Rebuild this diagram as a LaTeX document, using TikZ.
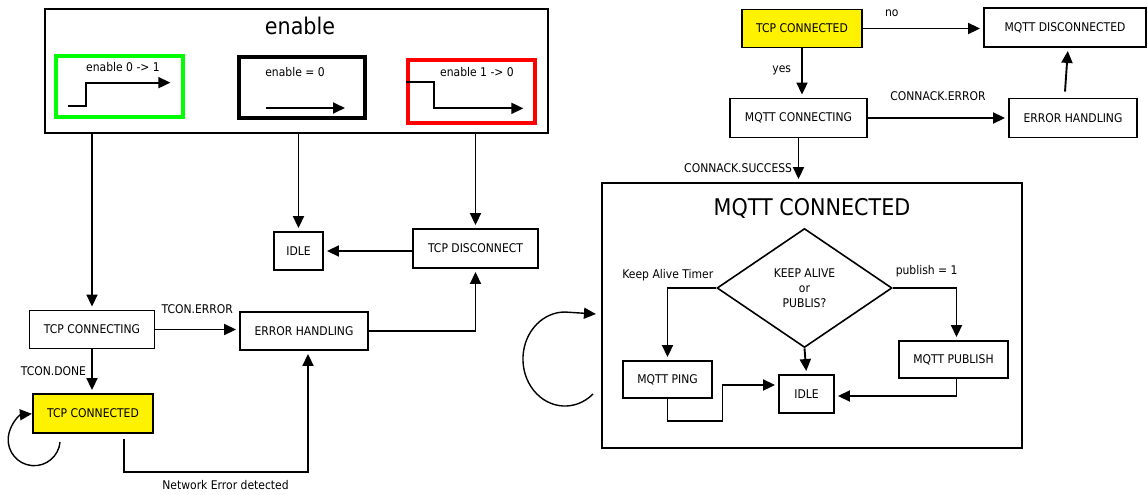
\documentclass[tikz,border=0pt]{standalone}
\usepackage{fontspec}
\setmainfont{DejaVu Sans}[FakeStretch=0.9]
\usetikzlibrary{arrows.meta,shapes.geometric}

\begin{document}
\begin{tikzpicture}[x=1pt, y=-1pt,
box/.style={draw, line width=1.9pt, align=center, minimum height=38pt, inner sep=2pt, font=\fontsize{12}{14}\selectfont},
yel/.style={box, fill=yellow},
frame/.style={draw, line width=1.9pt, inner sep=0pt},
ttl/.style={font=\fontsize{23}{26}\selectfont},
lbl/.style={font=\fontsize{12}{14}\selectfont, inner sep=2pt},
arr/.style={-{Triangle[length=12pt,width=11pt]}, line width=1.9pt, shorten >=3pt},
sig/.style={-{Triangle[length=12pt,width=11pt]}, line width=1.8pt},
selfarr/.style={-{Triangle[length=12pt,width=11pt]}, line width=1.4pt}
]
\useasboundingbox (0,0) rectangle (1148,495);
\node[frame, minimum width=503pt, minimum height=124pt] (en) at (296.5,71) {};
\node[ttl] (entitle) at (300,26) {enable};
\node[frame, draw=green, line width=3.3pt, minimum width=127pt, minimum height=61pt] (rise) at (119.5,86.5) {};
\node[frame, line width=4pt, minimum width=126pt, minimum height=61pt] (low) at (302,87.5) {};
\node[frame, draw=red, line width=3.3pt, minimum width=127pt, minimum height=63pt] (fall) at (471.5,91.5) {};
\node[lbl] (risetxt) at (123,67) {enable 0 -> 1};
\node[lbl] (lowtxt) at (295,72) {enable = 0};
\node[lbl] (falltxt) at (477,72) {enable 1 -> 0};
\draw[sig] ([xshift=14pt,yshift=13pt]rise.south west) -- ++(18,0) -- ++(0,-23) -- ++(84,0);
\draw[sig] ([xshift=29pt,yshift=12pt]low.south west) -- ++(79,0);
\draw[sig] ([yshift=-24pt]fall.north west) -- ++(28,0) -- ++(0,26) -- ++(89,0);

\node[box, minimum width=125pt] (tcpcon) at (92,329.5) {TCP CONNECTING};
\node[box, minimum width=128pt] (errl) at (304,331) {ERROR HANDLING};
\node[yel, minimum width=120pt, minimum height=39pt] (tcpok) at (93,413.5) {TCP CONNECTED};
\node[box, minimum width=49pt] (idlel) at (298.5,251) {IDLE};
\node[box, minimum width=125pt, minimum height=39pt] (tcpdis) at (475.5,248.5) {TCP DISCONNECT};

\node[yel, minimum width=120pt] (tcpokr) at (802,28.5) {TCP CONNECTED};
\node[box, minimum width=162pt, minimum height=39pt] (mqdis) at (1065,27.5) {MQTT DISCONNECTED};
\node[box, minimum width=137pt, minimum height=39pt] (mqcon) at (798.5,118) {MQTT CONNECTING};
\node[box, minimum width=128pt, minimum height=39pt] (errr) at (1073,118) {ERROR HANDLING};
\node[frame, minimum width=420pt, minimum height=265pt] (mqok) at (812,315.5) {};
\node[ttl] (mqtitle) at (812,208) {MQTT CONNECTED};
\node[draw, diamond, line width=1.6pt, minimum width=175pt, minimum height=119pt, inner sep=0pt, align=center, font=\fontsize{12}{15}\selectfont] (ka) at (804.5,288) {KEEP ALIVE\\or\\PUBLIS?};
\node[box, minimum width=89pt, minimum height=37pt] (ping) at (667.5,379.5) {MQTT PING};
\node[box, minimum width=55pt] (idler) at (806.5,394) {IDLE};
\node[box, minimum width=109pt, minimum height=37pt] (pub) at (953.5,359.5) {MQTT PUBLISH};

\draw[arr] (en.south -| tcpcon.north) -- (tcpcon.north);
\draw[arr] (en.south -| idlel.north) -- (idlel.north);
\draw[arr] (en.south -| tcpdis.north) -- (tcpdis.north);
\draw[arr] (tcpcon.east) -- node[lbl, above=13pt] {TCON.ERROR} (errl.west |- tcpcon.east);
\draw[arr] (tcpcon.south) -- node[lbl, left=3pt] {TCON.DONE} (tcpcon.south |- tcpok.north);
\draw[arr] ([xshift=-30pt,yshift=-5pt]tcpok.south east) -- ++(0,33) -| node[lbl, pos=0.276, below=5pt] {Network Error detected} ([xshift=4pt]errl.south);
\draw[arr] (errl.east) -| (tcpdis.south);
\draw[arr] (tcpdis.west |- idlel.east) -- (idlel.east);
\draw[selfarr] ([xshift=28pt,yshift=-8pt]tcpok.south west) arc[start angle=-5, end angle=-265, radius=26pt];

\draw[arr] (tcpokr.east) -- node[lbl, pos=0.24, above=8.5pt] {no} (mqdis.west |- tcpokr.east);
\draw[arr] (tcpokr.south) -- node[lbl, pos=0.45, left=8pt] {yes} (tcpokr.south |- mqcon.north);
\draw[arr] (mqcon.east) -- node[lbl, above=14.5pt] {CONNACK.ERROR} (errr.west);
\draw[arr] ([xshift=-8pt,yshift=6pt]errr.north) -- ([xshift=3pt]mqdis.south);
\draw[arr] (mqcon.south) -- node[lbl, pos=0.67, left=3.5pt] {CONNACK.SUCCESS} (mqcon.south |- mqok.north);
\draw[selfarr] ([xshift=-8pt,yshift=55pt]mqok.south west) arc[start angle=-48, end angle=-270, x radius=42pt, y radius=47pt] -- ++(31,2);

\draw[arr] (ka.west) node[lbl, above left, yshift=4pt] {Keep Alive Timer} -| (ping.north);
\draw[arr] (ka.east) node[lbl, above right, yshift=8pt] {publish = 1} -| ([xshift=3pt]pub.north);
\draw[arr] (ka.south) -- (idler.north);
\draw[arr] (ping.south) -- ++(0,22) -- ++(55,0) |- ([yshift=9pt]idler.west);
\draw[arr] ([xshift=3pt]pub.south) |- ([yshift=-2pt]idler.east);
\end{tikzpicture}
\end{document}
